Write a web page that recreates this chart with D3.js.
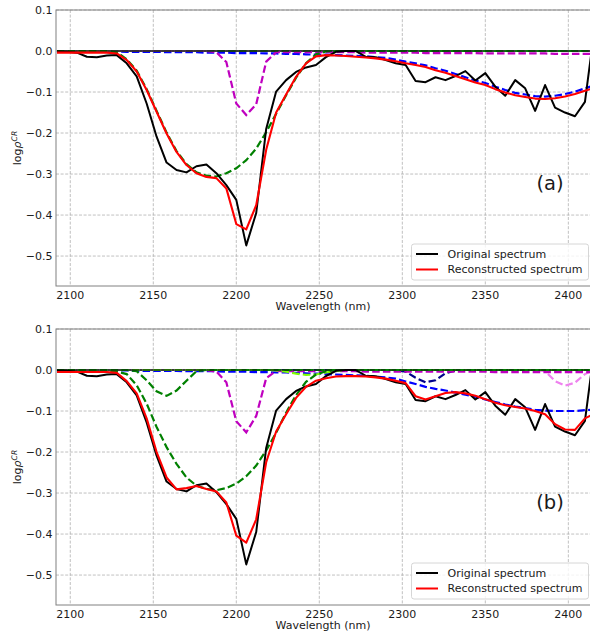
<!DOCTYPE html>
<html>
<head>
<meta charset="utf-8">
<script src="https://cdn.jsdelivr.net/npm/d3@7"></script>
<style>
  html, body { margin: 0; padding: 0; background: #fff; }
  svg { display: block; font-family: "DejaVu Sans", sans-serif; }
</style>
</head>
<body>
<svg id="chart" width="590" height="632"></svg>
<script>
// ---------------- data ----------------
const wavelength = [2092,2098,2104,2110,2116,2122,2128,2134,2140,2146,
  2152,2158,2164,2170,2176,2182,2188,2194,2200,2206,
  2212,2218,2224,2230,2236,2242,2248,2254,2260,2266,
  2272,2278,2284,2290,2296,2302,2308,2314,2320,2326,
  2332,2338,2344,2350,2356,2362,2368,2374,2380,2386,
  2392,2398,2404,2410,2414];

const original = [-0.001,-0.002,-0.004,-0.014,-0.015,-0.011,-0.010,-0.030,-0.062,-0.128,
  -0.209,-0.272,-0.290,-0.296,-0.281,-0.277,-0.298,-0.327,-0.363,-0.474,
  -0.395,-0.190,-0.099,-0.071,-0.051,-0.040,-0.034,-0.015,-0.002,0.000,
  0.000,-0.014,-0.015,-0.022,-0.030,-0.034,-0.073,-0.076,-0.064,-0.071,
  -0.061,-0.049,-0.072,-0.054,-0.087,-0.109,-0.071,-0.091,-0.146,-0.083,
  -0.138,-0.150,-0.159,-0.124,0.000];

// panel (a)
const reconA = [-0.004,-0.004,-0.004,-0.004,-0.004,-0.004,-0.006,-0.022,-0.050,-0.095,
  -0.148,-0.201,-0.246,-0.278,-0.298,-0.307,-0.310,-0.335,-0.422,-0.435,
  -0.376,-0.241,-0.150,-0.106,-0.063,-0.030,-0.013,-0.010,-0.011,-0.012,
  -0.014,-0.016,-0.018,-0.021,-0.025,-0.030,-0.034,-0.039,-0.047,-0.053,
  -0.061,-0.069,-0.077,-0.083,-0.093,-0.101,-0.108,-0.112,-0.116,-0.117,
  -0.115,-0.111,-0.105,-0.097,-0.092];
const greenA = [0,0,0,0,0,0,-0.003,-0.020,-0.048,-0.093,
  -0.146,-0.199,-0.244,-0.276,-0.296,-0.304,-0.306,-0.298,-0.286,-0.266,
  -0.238,-0.198,-0.153,-0.108,-0.065,-0.030,-0.008,-0.001,0,0,
  0,0,0,0,0,0,0,0,0,0,
  0,0,0,0,0,0,0,0,0,0,
  0,0,0,0,0];
const magentaA = [0,0,0,0,0,0,0,0,0,0,
  0,0,0,0,0,0,-0.003,-0.027,-0.128,-0.156,
  -0.130,-0.026,-0.003,-0.003,-0.003,-0.003,-0.003,-0.003,-0.003,-0.003,
  -0.003,-0.004,-0.004,-0.004,-0.004,-0.004,-0.004,-0.005,-0.005,-0.005,
  -0.005,-0.005,-0.005,-0.006,-0.006,-0.006,-0.006,-0.006,-0.006,-0.006,
  -0.007,-0.007,-0.007,-0.007,-0.007];
const blueA = [0,0,-0.001,-0.001,-0.001,-0.001,-0.001,-0.002,-0.002,-0.002,
  -0.002,-0.003,-0.003,-0.003,-0.003,-0.004,-0.004,-0.004,-0.005,-0.005,
  -0.005,-0.006,-0.006,-0.007,-0.007,-0.008,-0.009,-0.009,-0.010,-0.011,
  -0.012,-0.013,-0.015,-0.017,-0.021,-0.026,-0.030,-0.035,-0.042,-0.048,
  -0.056,-0.064,-0.072,-0.078,-0.087,-0.095,-0.102,-0.106,-0.110,-0.111,
  -0.109,-0.105,-0.099,-0.091,-0.086];

// panel (b)
const reconB = [-0.005,-0.005,-0.005,-0.005,-0.005,-0.005,-0.007,-0.027,-0.057,-0.118,
  -0.200,-0.262,-0.291,-0.288,-0.283,-0.290,-0.296,-0.323,-0.404,-0.421,
  -0.364,-0.225,-0.150,-0.108,-0.068,-0.041,-0.026,-0.020,-0.016,-0.015,
  -0.015,-0.016,-0.018,-0.021,-0.026,-0.032,-0.064,-0.072,-0.064,-0.056,
  -0.054,-0.057,-0.063,-0.071,-0.080,-0.086,-0.090,-0.094,-0.100,-0.108,
  -0.132,-0.145,-0.146,-0.118,-0.110];
const green1B = [0,0,0,0,0,0,0,0,-0.003,-0.025,
  -0.052,-0.063,-0.050,-0.026,-0.003,0,0,0,0,0,
  0,0,0,0,0,0,0,0,0,0,
  0,0,0,0,0,0,0,0,0,0,
  0,0,0,0,0,0,0,0,0,0,
  0,0,0,0,0];
const green2B = [0,0,0,0,0,0,-0.004,-0.010,-0.037,-0.082,
  -0.139,-0.188,-0.229,-0.262,-0.282,-0.290,-0.293,-0.288,-0.277,-0.259,
  -0.233,-0.196,-0.153,-0.104,-0.061,-0.029,-0.011,-0.003,0,0,
  0,0,0,0,0,0,0,0,0,0,
  0,0,0,0,0,0,0,0,0,0,
  0,0,0,0,0];
const limeB = [0,0,0,0,0,0,0,0,0,0,
  0,0,0,0,0,0,0,0,0,0,
  0,0,-0.001,-0.004,-0.009,-0.012,-0.011,-0.006,-0.002,0,
  0,0,0,0,0,0,0,0,0,0,
  0,0,0,0,0,0,0,0,0,0,
  0,0,0,0,0];
const magentaB = [0,0,0,0,0,0,0,0,0,0,
  0,0,0,0,0,0,-0.004,-0.030,-0.125,-0.152,
  -0.112,-0.020,-0.002,-0.003,-0.003,-0.003,-0.003,-0.003,-0.003,-0.003,
  -0.003,-0.004,-0.004,-0.004,-0.004,-0.004,-0.004,-0.004,-0.004,-0.004,
  -0.004,-0.004,-0.004,-0.004,-0.005,-0.005,-0.005,-0.005,-0.005,-0.005,
  -0.005,-0.005,-0.005,-0.005,-0.005];
const navyB = [0,0,0,0,0,0,0,0,0,0,
  0,0,0,0,0,0,0,0,0,0,
  0,0,0,0,0,0,0,0,0,0,
  0,0,0,0,0,-0.004,-0.019,-0.030,-0.025,-0.008,
  -0.001,0,0,0,0,0,0,0,0,0,
  0,0,0,0,0];
const blueB = [0,0,0,-0.001,-0.001,-0.001,-0.001,-0.001,-0.002,-0.002,
  -0.002,-0.002,-0.002,-0.003,-0.003,-0.003,-0.003,-0.004,-0.004,-0.004,
  -0.005,-0.005,-0.006,-0.006,-0.007,-0.008,-0.009,-0.010,-0.011,-0.012,
  -0.013,-0.014,-0.016,-0.018,-0.021,-0.028,-0.034,-0.041,-0.046,-0.050,
  -0.055,-0.060,-0.065,-0.072,-0.078,-0.084,-0.089,-0.093,-0.097,-0.099,
  -0.100,-0.100,-0.100,-0.098,-0.097];
const violetB = [0,0,0,0,0,0,0,0,0,0,
  0,0,0,0,0,0,0,0,0,0,
  0,0,0,0,0,0,0,0,0,0,
  0,0,0,0,0,0,0,0,0,0,
  0,0,0,0,0,0,0,0,0,-0.003,
  -0.027,-0.038,-0.031,-0.010,-0.003];

const xTicks = [2100, 2150, 2200, 2250, 2300, 2350, 2400];
const yTicks = [0.1, 0.0, -0.1, -0.2, -0.3, -0.4, -0.5];
const legendLabels = ["Original spectrum", "Reconstructed spectrum"];
const panelLabels = ["(a)", "(b)"];
const xLabel = "Wavelength (nm)";

// ---------------- drawing ----------------
const svg = d3.select("#chart");
const x = d3.scaleLinear().domain([2091.4, 2416]).range([56, 594.9]);
const fmtY = v => (v < 0 ? "\u2212" : "") + Math.abs(v).toFixed(1);
const FS = 11;

const panels = [
  { top: 10, bottom: 286, label: panelLabels[0],
    comps: [
      { v: blueA, c: "#0000ff" },
      { v: magentaA, c: "#bf00bf" },
      { v: greenA, c: "#008000" }
    ],
    recon: reconA },
  { top: 329, bottom: 605, label: panelLabels[1],
    comps: [
      { v: violetB, c: "#ee82ee" },
      { v: blueB, c: "#0000ff" },
      { v: navyB, c: "#00008b" },
      { v: magentaB, c: "#bf00bf" },
      { v: limeB, c: "#7fff00" },
      { v: green2B, c: "#008000" },
      { v: green1B, c: "#008000" }
    ],
    recon: reconB }
];

panels.forEach((p, pi) => {
  const y = d3.scaleLinear().domain([-0.573, 0.1]).range([p.bottom, p.top]);
  const g = svg.append("g");
  const clipId = "clip" + pi;
  svg.append("clipPath").attr("id", clipId).append("rect")
    .attr("x", x.range()[0]).attr("y", p.top)
    .attr("width", x.range()[1] - x.range()[0]).attr("height", p.bottom - p.top);

  // grid
  const grid = g.append("g");
  grid.selectAll("line.v").data(xTicks).join("line")
    .attr("x1", d => x(d)).attr("x2", d => x(d))
    .attr("y1", p.top).attr("y2", p.bottom)
    .attr("stroke", "#b0b0b0").attr("stroke-width", 0.8).attr("stroke-dasharray", "3,1.6");
  grid.selectAll("line.h").data(yTicks).join("line")
    .attr("x1", x.range()[0]).attr("x2", x.range()[1])
    .attr("y1", d => y(d)).attr("y2", d => y(d))
    .attr("stroke", "#b0b0b0").attr("stroke-width", 0.8).attr("stroke-dasharray", "3,1.6");

  const line = vals => d3.line().x((d, i) => x(wavelength[i])).y(d => y(d))(vals);
  const plot = g.append("g").attr("clip-path", `url(#${clipId})`);

  // zero baseline
  const zeros = wavelength.map(() => 0);
  plot.append("path").attr("d", line(zeros)).attr("fill", "none")
    .attr("stroke", "#000").attr("stroke-width", 1.5);

  p.comps.forEach(cmp => {
    plot.append("path").attr("d", line(cmp.v)).attr("fill", "none")
      .attr("stroke", cmp.c).attr("stroke-width", 2.2).attr("stroke-dasharray", "7.5,3.2");
  });
  plot.append("path").attr("d", line(zeros)).attr("fill", "none")
    .attr("stroke", "#0a3d0a").attr("stroke-width", 1.5).attr("stroke-dasharray", "7.5,3.2");

  plot.append("path").attr("d", line(original)).attr("fill", "none")
    .attr("stroke", "#000").attr("stroke-width", 2).attr("stroke-linejoin", "round");
  plot.append("path").attr("d", line(p.recon)).attr("fill", "none")
    .attr("stroke", "#ff0000").attr("stroke-width", 2.1).attr("stroke-linejoin", "round");

  // frame
  g.append("rect").attr("x", x.range()[0]).attr("y", p.top)
    .attr("width", x.range()[1] - x.range()[0]).attr("height", p.bottom - p.top)
    .attr("fill", "none").attr("stroke", "#808080").attr("stroke-width", 1);

  // tick labels
  g.selectAll("text.yt").data(yTicks).join("text")
    .attr("x", 52.5).attr("y", d => y(d)).attr("dy", "0.35em")
    .attr("text-anchor", "end").attr("font-size", FS).attr("fill", "#1a1a1a")
    .text(fmtY);
  g.selectAll("text.xt").data(xTicks).join("text")
    .attr("x", d => x(d)).attr("y", p.bottom + 12.5)
    .attr("text-anchor", "middle").attr("font-size", FS).attr("fill", "#1a1a1a")
    .text(d => d);

  // axis labels
  g.append("text").attr("x", 323).attr("y", p.bottom + 24)
    .attr("text-anchor", "middle").attr("font-size", FS).attr("fill", "#1a1a1a")
    .text(xLabel);
  const yl = g.append("text")
    .attr("transform", `translate(21,${(p.top + p.bottom) / 2}) rotate(-90)`)
    .attr("text-anchor", "middle").attr("font-size", FS).attr("fill", "#1a1a1a");
  yl.append("tspan").text("log");
  yl.append("tspan").attr("font-style", "italic").text("\u03c1");
  yl.append("tspan").attr("font-style", "italic").attr("font-size", 7.7).attr("dy", -4.5).text("CR");

  // panel label
  g.append("text").attr("x", 550).attr("y", y(-0.34))
    .attr("text-anchor", "middle").attr("font-size", 19.5).attr("fill", "#1a1a1a")
    .text(p.label);

  // legend
  const lx = 411.5, ly = p.bottom - 42, lw = 177, lh = 36;
  const lg = g.append("g");
  lg.append("rect").attr("x", lx).attr("y", ly).attr("width", lw).attr("height", lh)
    .attr("rx", 2.5).attr("fill", "#fff").attr("fill-opacity", 0.8)
    .attr("stroke", "#ccc").attr("stroke-width", 0.8);
  const legCols = ["#000", "#ff0000"];
  legendLabels.forEach((t, i) => {
    const yy = ly + 10 + i * 15.5;
    lg.append("line").attr("x1", lx + 4.5).attr("x2", lx + 26.5)
      .attr("y1", yy).attr("y2", yy).attr("stroke", legCols[i]).attr("stroke-width", 2);
    lg.append("text").attr("x", lx + 36).attr("y", yy).attr("dy", "0.35em")
      .attr("font-size", FS).attr("fill", "#1a1a1a").text(t);
  });
});
</script>
</body>
</html>
